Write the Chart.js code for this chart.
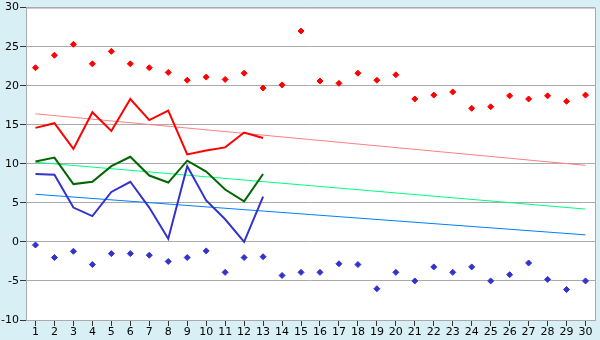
<!DOCTYPE html>
<html lang="en">
<head>
    <meta charset="UTF-8">
    <title>Series chart</title>
    <script src="https://cdn.jsdelivr.net/npm/chart.js"></script>
    <style>
        body { margin: 0; background: #d9eff6; }
        #chartWrap { width: 600px; height: 340px; }
    </style>
</head>
<body>
    <div id="chartWrap"><canvas id="seriesChart" width="600" height="340"></canvas></div>

    <script>
        // x categories
        var labels = ['1','2','3','4','5','6','7','8','9','10','11','12','13','14','15',
                      '16','17','18','19','20','21','22','23','24','25','26','27','28','29','30'];

        // scattered markers
        var redPoints = [22.3, 23.9, 25.3, 22.8, 24.4, 22.8, 22.3, 21.7, 20.7, 21.1,
                         20.8, 21.6, 19.7, 20.1, 27.0, 20.6, 20.3, 21.6, 20.7, 21.4,
                         18.3, 18.8, 19.2, 17.1, 17.3, 18.7, 18.3, 18.7, 18.0, 18.8];
        var bluePoints = [-0.4, -2.0, -1.2, -2.9, -1.5, -1.5, -1.7, -2.5, -2.0, -1.15,
                          -3.9, -2.0, -1.9, -4.3, -3.9, -3.9, -2.8, -2.9, -6.0, -3.9,
                          -5.0, -3.2, -3.9, -3.2, -5.0, -4.2, -2.7, -4.8, -6.1, -5.0];

        // solid lines (first 13 categories only)
        var redLine   = [14.6, 15.2, 11.9, 16.6, 14.2, 18.3, 15.6, 16.8, 11.2, 11.7, 12.1, 14.0, 13.3];
        var greenLine = [10.3, 10.8, 7.4, 7.7, 9.7, 10.9, 8.5, 7.6, 10.4, 9.0, 6.7, 5.2, 8.7];
        var blueLine  = [8.7, 8.6, 4.4, 3.3, 6.4, 7.7, 4.4, 0.4, 9.7, 5.3, 2.9, 0.0, 5.8];

        // trend lines: value at first and last category
        var redTrend   = [16.4, 9.8];
        var greenTrend = [10.2, 4.2];
        var blueTrend  = [6.1, 0.9];

        function trend(ends) {
            var arr = labels.map(function () { return null; });
            arr[0] = ends[0];
            arr[arr.length - 1] = ends[1];
            return arr;
        }

        var plotBg = {
            id: 'plotBg',
            beforeDraw: function (chart) {
                var a = chart.chartArea, c = chart.ctx;
                c.save();
                c.fillStyle = '#d9eff6';
                c.fillRect(0, 0, chart.width, chart.height);
                c.fillStyle = '#ffffff';
                c.fillRect(a.left, a.top, a.right - a.left, a.bottom - a.top);
                c.strokeStyle = '#aaaaaa';
                c.lineWidth = 1;
                c.strokeRect(a.left + 0.5, a.top + 0.5, a.right - a.left, a.bottom - a.top);
                c.restore();
            }
        };

        var lineStyle = { fill: false, borderWidth: 2, pointRadius: 0, tension: 0 };

        var ctx = document.getElementById('seriesChart').getContext('2d');
        var seriesChart = new Chart(ctx, {
            type: 'line',
            data: {
                labels: labels,
                datasets: [
                    Object.assign({ data: redLine, borderColor: '#ff0000' }, lineStyle),
                    Object.assign({ data: greenLine, borderColor: '#006600' }, lineStyle),
                    Object.assign({ data: blueLine, borderColor: '#3333cc' }, lineStyle),
                    {
                        data: redPoints, showLine: false, pointStyle: 'rectRot',
                        pointRadius: 3, borderWidth: 1,
                        backgroundColor: '#ff0000', borderColor: '#ff0000'
                    },
                    {
                        data: bluePoints, showLine: false, pointStyle: 'rectRot',
                        pointRadius: 3, borderWidth: 1,
                        backgroundColor: '#3333cc', borderColor: '#3333cc'
                    },
                    { data: trend(redTrend), borderColor: '#ff8080', borderWidth: 1, pointRadius: 0, spanGaps: true },
                    { data: trend(greenTrend), borderColor: '#00ff80', borderWidth: 1, pointRadius: 0, spanGaps: true },
                    { data: trend(blueTrend), borderColor: '#0080ff', borderWidth: 1, pointRadius: 0, spanGaps: true }
                ]
            },
            options: {
                responsive: false,
                animation: false,
                layout: { padding: { top: 5, right: 5, left: 0, bottom: 0 } },
                scales: {
                    x: {
                        offset: true,
                        afterFit: function (s) { s.height = 20; },
                        grid: {
                            drawOnChartArea: false,
                            drawTicks: true,
                            tickLength: 6,
                            tickColor: '#333333',
                            offset: false
                        },
                        border: { display: false },
                        ticks: {
                            color: '#000',
                            padding: 0,
                            maxRotation: 0,
                            autoSkip: false,
                            font: { family: 'DejaVu Sans', size: 11 }
                        }
                    },
                    y: {
                        min: -10,
                        max: 30,
                        afterFit: function (s) { s.width = 26; },
                        grid: {
                            color: '#aaaaaa',
                            tickColor: '#333333',
                            tickLength: 6
                        },
                        border: { display: false },
                        ticks: {
                            stepSize: 5,
                            color: '#000',
                            padding: 1,
                            font: { family: 'DejaVu Sans', size: 11 }
                        }
                    }
                },
                plugins: {
                    legend: { display: false },
                    tooltip: { enabled: false }
                }
            },
            plugins: [plotBg]
        });
    </script>
</body>
</html>
